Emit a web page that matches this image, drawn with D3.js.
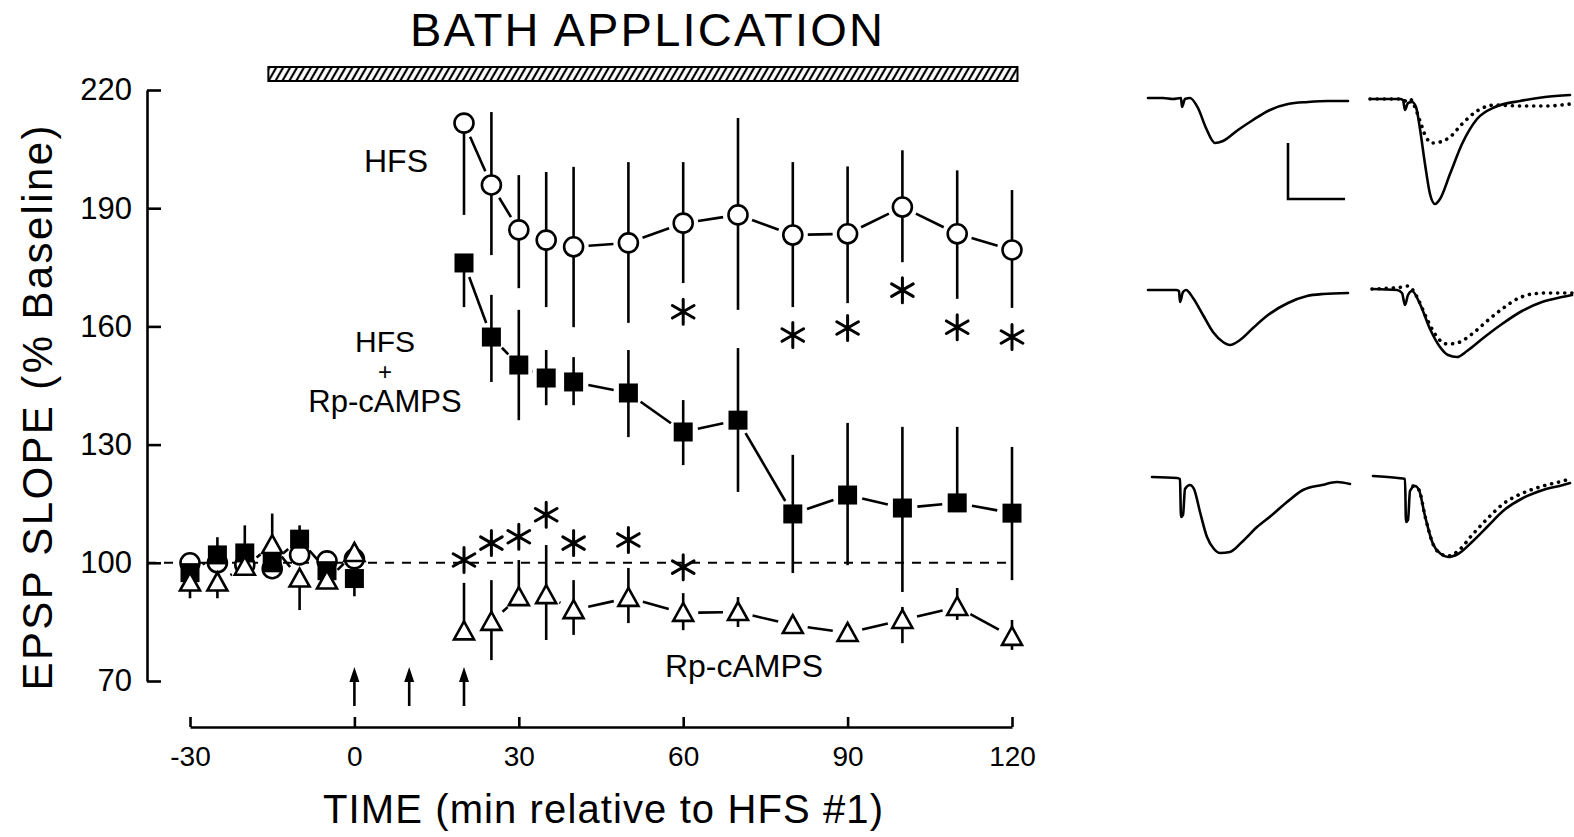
<!DOCTYPE html>
<html>
<head>
<meta charset="utf-8">
<script src="https://cdn.jsdelivr.net/npm/d3@7"></script>
<style>
  body { margin: 0; background: #fff; }
  text { font-family: "Liberation Sans", Arial, Helvetica, sans-serif; fill: #000; }
</style>
</head>
<body>
<svg width="1574" height="837"></svg>
<script>
// ---- data ----
var times = [-30, -25, -20, -15, -10, -5, 0, 20, 25, 30, 35, 40, 50, 60, 70, 80, 90, 100, 110, 120];
var segments = [[0, 6], [7, 19]];   // index ranges that are joined by lines

// HFS (open circles)
var hfsMean = [100, 100, 99.5, 98.5, 102, 100.5, 101, 211.6, 195.9, 184.5, 181.9, 180.2, 181.2, 186.2, 188.3, 183.2, 183.5, 190.3, 183.5, 179.4];
var hfsUp   = [0, 0, 0, 0, 0, 0, 0, 0, 18.5, 13.9, 17.3, 20.3, 20.5, 15.5, 24.6, 18.5, 17.1, 14.4, 16.1, 15.2];
var hfsDn   = [0, 0, 0, 0, 0, 0, 0, 23.3, 17.8, 14.8, 17.0, 20.4, 20.3, 15.2, 24.1, 18.3, 17.6, 14.0, 16.5, 14.7];

// HFS + Rp-cAMPS (filled squares)
var comboMean = [97.5, 102, 102.5, 100, 106, 98, 96, 176.1, 157.3, 150.2, 146.9, 145.9, 143.1, 133.2, 136.2, 112.4, 117.2, 113.9, 115.2, 112.6];
var comboUp   = [0, 4.5, 7, 0, 3.5, 0, 0, 0, 10.7, 14, 7.1, 6.3, 10.9, 8.1, 18.3, 15, 18.3, 20.6, 19.3, 16.8];
var comboDn   = [0, 0, 0, 0, 0, 0, 4.5, 11.2, 11.4, 14, 6.9, 5.9, 11.2, 8.4, 18.2, 15, 17.8, 21.3, 0, 17];

// Rp-cAMPS alone (open triangles)
var rpMean = [95, 95, 99, 104.5, 96, 95.5, 102.5, 82.6, 85, 91.3, 91.8, 88, 91.1, 87.3, 87.5, 84.2, 82.2, 85.5, 88.8, 81.2];
var rpUp   = [0, 0, 0, 8, 0, 0, 0, 12.3, 10.6, 9.4, 12.7, 7.6, 7.6, 5, 3.8, 0, 0, 3.3, 4.8, 4.3];
var rpDn   = [4, 4, 0, 0, 8, 0, 0, 0, 9.7, 0, 11.4, 6.3, 6.4, 4.4, 3.8, 0, 0, 5.9, 3.3, 3.3];

// significance asterisks
var hfsStarT = [60, 80, 90, 100, 110, 120];
var hfsStarV = [163.7, 157.8, 159.6, 169.2, 159.8, 157.3];
var rpStarT  = [20, 25, 30, 35, 40, 50, 60];
var rpStarV  = [100.7, 105, 106.6, 112.2, 105, 105.8, 98.9];

var stimTimes  = [0, 10, 20];
var bathWindow = [-15.7, 121];
var xTicks = [-30, 0, 30, 60, 90, 120];
var yTicks = [70, 100, 130, 160, 190, 220];

// example traces: [sample, amplitude]
var traceA1 = [[0,0],[15,0],[25,-1],[33,0],[34,-9],[37,-1],[42,0],[50,-10],[58,-30],[67,-45],[75,-43],[90,-32],[105,-22],[122,-12],[140,-6],[160,-4],[180,-3],[200,-3]];
var traceA2 = [[0,0],[30,0],[33,-1],[35,-11],[38,-4],[42,-3],[46,-8],[50,-30],[55,-65],[60,-95],[65,-105],[70,-100],[80,-75],[92,-45],[107,-20],[125,-8],[150,-2],[175,2],[200,4]];
var traceA2d = [[0,0],[30,0],[36,-2],[40,0],[44,-6],[50,-22],[56,-38],[62,-44],[70,-43],[80,-38],[92,-25],[107,-12],[125,-6],[150,-7],[175,-7],[200,-5]];
var traceB1 = [[0,0],[28,0],[31,-1],[32,-12],[35,-2],[38,0],[45,-8],[55,-25],[65,-42],[75,-52],[82,-55],[92,-50],[105,-38],[120,-25],[140,-13],[159,-6],[175,-4],[200,-3]];
var traceB2 = [[0,0],[25,-1],[30,-4],[33,-16],[36,-6],[40,-2],[48,-15],[58,-40],[68,-58],[76,-66],[85,-68],[95,-62],[110,-50],[130,-35],[150,-22],[170,-13],[190,-8],[200,-6]];
var traceB2d = [[0,0],[30,2],[36,3],[40,0],[46,-10],[55,-30],[65,-48],[75,-55],[85,-54],[100,-45],[115,-32],[130,-20],[145,-10],[160,-5],[175,-4],[200,-4]];
var traceC1 = [[0,0],[25,-1],[28,-2],[29,-40],[31,-38],[33,-12],[38,-8],[42,-12],[48,-35],[55,-60],[62,-72],[68,-76],[78,-75],[90,-65],[105,-50],[120,-38],[135,-25],[151,-13],[170,-8],[185,-5],[198,-7]];
var traceC2 = [[0,0],[25,-2],[32,-3],[33,-46],[35,-44],[37,-15],[42,-10],[46,-14],[52,-40],[60,-68],[68,-78],[75,-81],[85,-78],[100,-65],[115,-50],[130,-35],[150,-22],[170,-14],[190,-9],[197,-7]];
var traceC2d = [[40,-10],[46,-14],[52,-40],[60,-68],[68,-78],[75,-80],[85,-75],[100,-58],[115,-42],[130,-28],[150,-17],[170,-10],[190,-5],[197,-3]];

// ---- drawing ----
var svg = d3.select("svg");
var x = d3.scaleLinear().domain([-30, 120]).range([190, 1012]);
var y = d3.scaleLinear().domain([70, 220]).range([681, 90]);
var yAxisX = 147, xAxisY = 727;
var lw = 2.6;

// hatched bath bar
var defs = svg.append("defs");
defs.append("pattern")
    .attr("id", "hatch")
    .attr("width", 6).attr("height", 6)
    .attr("patternUnits", "userSpaceOnUse")
    .attr("patternTransform", "rotate(30)")
    .append("line")
    .attr("x1", 3).attr("y1", 0).attr("x2", 3).attr("y2", 6)
    .attr("stroke", "#000").attr("stroke-width", 2.2);

svg.append("rect")
    .attr("x", x(bathWindow[0])).attr("y", 67)
    .attr("width", x(bathWindow[1]) - x(bathWindow[0])).attr("height", 14)
    .attr("fill", "url(#hatch)")
    .attr("stroke", "#000").attr("stroke-width", 2);

svg.append("text")
    .attr("x", 410).attr("y", 46)
    .attr("font-size", 47)
    .attr("textLength", 473).attr("lengthAdjust", "spacing")
    .text("BATH APPLICATION");

// axes
var yAxis = d3.axisLeft(y).tickValues(yTicks).tickSizeInner(-14).tickSizeOuter(0).tickPadding(15)
    .tickFormat(function(d) { return String(d); });
var gy = svg.append("g").attr("transform", "translate(" + yAxisX + ",0)").call(yAxis);
gy.selectAll("text").attr("font-size", 31).attr("font-family", "Liberation Sans, Arial, sans-serif");

var xAxis = d3.axisBottom(x).tickValues(xTicks).tickSizeInner(-10).tickSizeOuter(0).tickPadding(19)
    .tickFormat(function(d) { return String(d); });
var gx = svg.append("g").attr("transform", "translate(0," + xAxisY + ")").call(xAxis);
gx.selectAll("text").attr("font-size", 28).attr("font-family", "Liberation Sans, Arial, sans-serif");

[gx, gy].forEach(function(g) {
  g.select(".domain").attr("stroke-width", lw);
  g.selectAll(".tick line").attr("stroke-width", lw);
});

svg.append("text")
    .attr("transform", "translate(52,408) rotate(-90)")
    .attr("text-anchor", "middle")
    .attr("font-size", 42)
    .attr("textLength", 565).attr("lengthAdjust", "spacing")
    .text("EPSP SLOPE (% Baseline)");

svg.append("text")
    .attr("x", 603).attr("y", 823)
    .attr("text-anchor", "middle")
    .attr("font-size", 40)
    .attr("textLength", 560).attr("lengthAdjust", "spacing")
    .text("TIME (min relative to HFS #1)");

// baseline 100 %
svg.append("line")
    .attr("x1", yAxisX).attr("x2", x(120))
    .attr("y1", y(100)).attr("y2", y(100))
    .attr("stroke", "#000").attr("stroke-width", 2)
    .attr("stroke-dasharray", "9,8");

// stimulus arrows
var arrows = svg.append("g");
stimTimes.forEach(function(t) {
  arrows.append("line")
      .attr("x1", x(t)).attr("x2", x(t)).attr("y1", 706).attr("y2", 676)
      .attr("stroke", "#000").attr("stroke-width", lw);
  arrows.append("path")
      .attr("d", "M" + x(t) + ",667 L" + (x(t) - 5) + ",682 L" + (x(t) + 5) + ",682 Z")
      .attr("fill", "#000");
});

// series
var series = [
  { mean: hfsMean,   up: hfsUp,   dn: hfsDn,   shape: "circle" },
  { mean: comboMean, up: comboUp, dn: comboDn, shape: "square" },
  { mean: rpMean,    up: rpUp,    dn: rpDn,    shape: "triangle" }
];

var lineG = svg.append("g"), errG = svg.append("g"), markG = svg.append("g");

series.forEach(function(s) {
  // connecting lines, broken near each marker
  segments.forEach(function(seg) {
    for (var i = seg[0]; i < seg[1]; i++) {
      var x1 = x(times[i]), y1 = y(s.mean[i]), x2 = x(times[i + 1]), y2 = y(s.mean[i + 1]);
      var len = Math.hypot(x2 - x1, y2 - y1), gap = 15;
      if (len <= gap * 2) continue;
      var ux = (x2 - x1) / len, uy = (y2 - y1) / len;
      lineG.append("line")
          .attr("x1", x1 + ux * gap).attr("y1", y1 + uy * gap)
          .attr("x2", x2 - ux * gap).attr("y2", y2 - uy * gap)
          .attr("stroke", "#000").attr("stroke-width", lw);
    }
  });
  // error bars
  times.forEach(function(t, i) {
    if (s.up[i] > 0 || s.dn[i] > 0) {
      errG.append("line")
          .attr("x1", x(t)).attr("x2", x(t))
          .attr("y1", y(s.mean[i] + s.up[i])).attr("y2", y(s.mean[i] - s.dn[i]))
          .attr("stroke", "#000").attr("stroke-width", lw);
    }
  });
});

series.forEach(function(s) {
  times.forEach(function(t, i) {
    var cx = x(t), cy = y(s.mean[i]);
    if (s.shape === "circle") {
      markG.append("circle").attr("cx", cx).attr("cy", cy).attr("r", 9.5)
          .attr("fill", "#fff").attr("stroke", "#000").attr("stroke-width", lw);
    } else if (s.shape === "square") {
      markG.append("rect").attr("x", cx - 9.5).attr("y", cy - 9.5).attr("width", 19).attr("height", 19)
          .attr("fill", "#000");
    } else {
      markG.append("path")
          .attr("d", "M" + cx + "," + (cy - 10) + " L" + (cx + 10) + "," + (cy + 8) + " L" + (cx - 10) + "," + (cy + 8) + " Z")
          .attr("fill", "#fff").attr("stroke", "#000").attr("stroke-width", lw)
          .attr("stroke-linejoin", "miter");
    }
  });
});

// asterisks
function asterisk(cx, cy) {
  var L = 12.5, d = "";
  [90, 30, 150].forEach(function(a) {
    var r = a * Math.PI / 180, dx = Math.cos(r) * L, dy = Math.sin(r) * L;
    d += "M" + (cx + dx) + "," + (cy - dy) + "L" + (cx - dx) + "," + (cy + dy);
  });
  svg.append("path").attr("d", d).attr("stroke", "#000").attr("stroke-width", 3)
      .attr("stroke-linecap", "round").attr("fill", "none");
}
hfsStarT.forEach(function(t, i) { asterisk(x(t), y(hfsStarV[i])); });
rpStarT.forEach(function(t, i) { asterisk(x(t), y(rpStarV[i])); });

// series labels
svg.append("text").attr("x", 396).attr("y", 172).attr("text-anchor", "middle").attr("font-size", 32).text("HFS");
svg.append("text").attr("x", 385).attr("y", 352).attr("text-anchor", "middle").attr("font-size", 30).text("HFS");
svg.append("text").attr("x", 385).attr("y", 380).attr("text-anchor", "middle").attr("font-size", 24).text("+");
svg.append("text").attr("x", 385).attr("y", 412).attr("text-anchor", "middle").attr("font-size", 31).text("Rp-cAMPS");

svg.append("text").attr("x", 744).attr("y", 677).attr("text-anchor", "middle").attr("font-size", 32).text("Rp-cAMPS");

// example EPSP traces
var tx = d3.scaleLinear().domain([0, 200]).range([0, 200]);
var ty = d3.scaleLinear().domain([0, -100]).range([0, 100]);
var traceLine = d3.line().x(function(d) { return tx(d[0]); }).y(function(d) { return ty(d[1]); }).curve(d3.curveMonotoneX);

function drawTrace(data, ox, oy, dotted) {
  svg.append("path")
      .attr("transform", "translate(" + ox + "," + oy + ")")
      .attr("d", traceLine(data))
      .attr("fill", "none").attr("stroke", "#000")
      .attr("stroke-width", dotted ? 3.6 : 2.6)
      .attr("stroke-linecap", "round").attr("stroke-linejoin", "round")
      .attr("stroke-dasharray", dotted ? "0.1,7" : null);
}
drawTrace(traceA1, 1148, 98, false);
drawTrace(traceA2, 1370, 99, false);
drawTrace(traceA2d, 1370, 99, true);
drawTrace(traceB1, 1148, 290, false);
drawTrace(traceB2, 1372, 289, false);
drawTrace(traceB2d, 1372, 289, true);
drawTrace(traceC1, 1152, 477, false);
drawTrace(traceC2, 1373, 476, false);
drawTrace(traceC2d, 1373, 476, true);

// scale bar
svg.append("path")
    .attr("d", "M1288,143 V199 H1345")
    .attr("fill", "none").attr("stroke", "#000").attr("stroke-width", 2.6);
</script>
</body>
</html>
